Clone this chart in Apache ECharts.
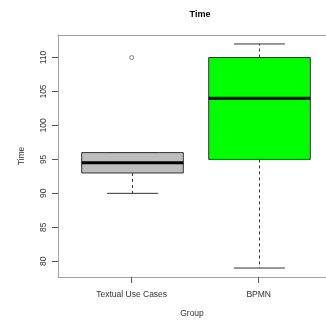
<!DOCTYPE html>
<html>
<head>
<meta charset="utf-8">
<script src="https://cdn.jsdelivr.net/npm/echarts@6/dist/echarts.min.js"></script>
<style>
  html, body { margin: 0; padding: 0; background: #fff; }
  #chart { width: 326px; height: 323px; }
</style>
</head>
<body>
<div id="chart"></div>
<script>
// boxplot summary
const categories = ['Textual Use Cases', 'BPMN'];
const lowerWhisker = [90, 79];
const q1 = [93, 95];
const median = [94.5, 104];
const q3 = [96, 110];
const upperWhisker = [96, 112];
const outliers = [[1, 110]];
const boxColors = ['#bebebe', '#00ff00'];
const yTicks = [80, 85, 90, 95, 100, 105, 110];

const boxData = categories.map((c, i) => [i + 1, lowerWhisker[i], q1[i], median[i], q3[i], upperWhisker[i]]);

// R pads the x range by 4%; the right side of the plot is cut off by the image edge
const xMin = 0.42, xMax = 2.53;

const chart = echarts.init(document.getElementById('chart'));

function renderBox(params, api) {
  const x = api.value(0);
  const pLo = api.coord([x, api.value(1)]);
  const pQ1 = api.coord([x, api.value(2)]);
  const pMed = api.coord([x, api.value(3)]);
  const pQ3 = api.coord([x, api.value(4)]);
  const pHi = api.coord([x, api.value(5)]);
  const w = api.size([0.8, 0])[0];
  const cx = Math.round(pMed[0]) + 0.5;
  const left = cx - w / 2;
  const stroke = '#333';
  const children = [];
  // whiskers (dashed)
  if (pHi[1] < pQ3[1]) {
    children.push({ type: 'line', shape: { x1: cx, y1: pQ3[1], x2: cx, y2: pHi[1] }, style: { stroke: stroke, lineWidth: 1, lineDash: [3, 3] } });
  }
  children.push({ type: 'line', shape: { x1: cx, y1: pQ1[1], x2: cx, y2: pLo[1] }, style: { stroke: stroke, lineWidth: 1, lineDash: [3, 3] } });
  // staples
  children.push({ type: 'line', shape: { x1: cx - w / 4, y1: pHi[1], x2: cx + w / 4, y2: pHi[1] }, style: { stroke: stroke, lineWidth: 1 } });
  children.push({ type: 'line', shape: { x1: cx - w / 4, y1: pLo[1], x2: cx + w / 4, y2: pLo[1] }, style: { stroke: stroke, lineWidth: 1 } });
  // box
  children.push({ type: 'rect', shape: { x: left, y: pQ3[1], width: w, height: pQ1[1] - pQ3[1] }, style: { fill: boxColors[params.dataIndex], stroke: stroke, lineWidth: 1 } });
  // median
  children.push({ type: 'line', shape: { x1: left, y1: pMed[1], x2: left + w, y2: pMed[1] }, style: { stroke: '#000', lineWidth: 3 } });
  return { type: 'group', children: children };
}

const labelFont = { fontFamily: 'Liberation Sans', fontSize: 8.5, color: '#333' };

const option = {
  animation: false,
  backgroundColor: '#fff',
  title: {
    text: 'Time',
    left: 195,
    textAlign: 'center',
    top: 5,
    textStyle: { fontFamily: 'Liberation Sans', fontSize: 9, fontWeight: 'bold', color: '#000' }
  },
  grid: { left: 58, top: 35, bottom: 44, right: 0 },
  xAxis: [
    {
      type: 'value',
      min: xMin, max: xMax,
      name: 'Group',
      nameLocation: 'middle',
      nameGap: 32,
      nameTextStyle: labelFont,
      axisLine: { show: true, lineStyle: { color: '#a0a0a0' } },
      axisTick: { show: true, customValues: [1, 2], length: 6, lineStyle: { color: '#555' } },
      axisLabel: Object.assign({
        customValues: [1, 2], margin: 13,
        formatter: v => categories[Math.round(v) - 1] || ''
      }, labelFont),
      splitLine: { show: false }
    },
    {
      // top frame line only
      type: 'value',
      position: 'top',
      min: xMin, max: xMax,
      axisLine: { show: true, lineStyle: { color: '#a0a0a0' } },
      axisTick: { show: false },
      axisLabel: { show: false },
      splitLine: { show: false }
    }
  ],
  yAxis: {
    type: 'value',
    min: 77.68, max: 113.32,
    name: 'Time',
    nameLocation: 'middle',
    nameGap: 32,
    nameTextStyle: labelFont,
    axisLine: { show: true, lineStyle: { color: '#a0a0a0' } },
    axisTick: { show: true, customValues: yTicks, length: 6, lineStyle: { color: '#555' } },
    axisLabel: Object.assign({ customValues: yTicks, rotate: 90, margin: 10 }, labelFont),
    splitLine: { show: false }
  },
  series: [
    {
      type: 'custom',
      renderItem: renderBox,
      data: boxData,
      encode: { x: 0, y: [1, 2, 3, 4, 5] },
      clip: false
    },
    {
      type: 'scatter',
      data: outliers,
      symbol: 'circle',
      symbolSize: 4,
      itemStyle: { color: '#fff', borderColor: '#666', borderWidth: 1 }
    }
  ]
};

chart.setOption(option);
</script>
</body>
</html>
